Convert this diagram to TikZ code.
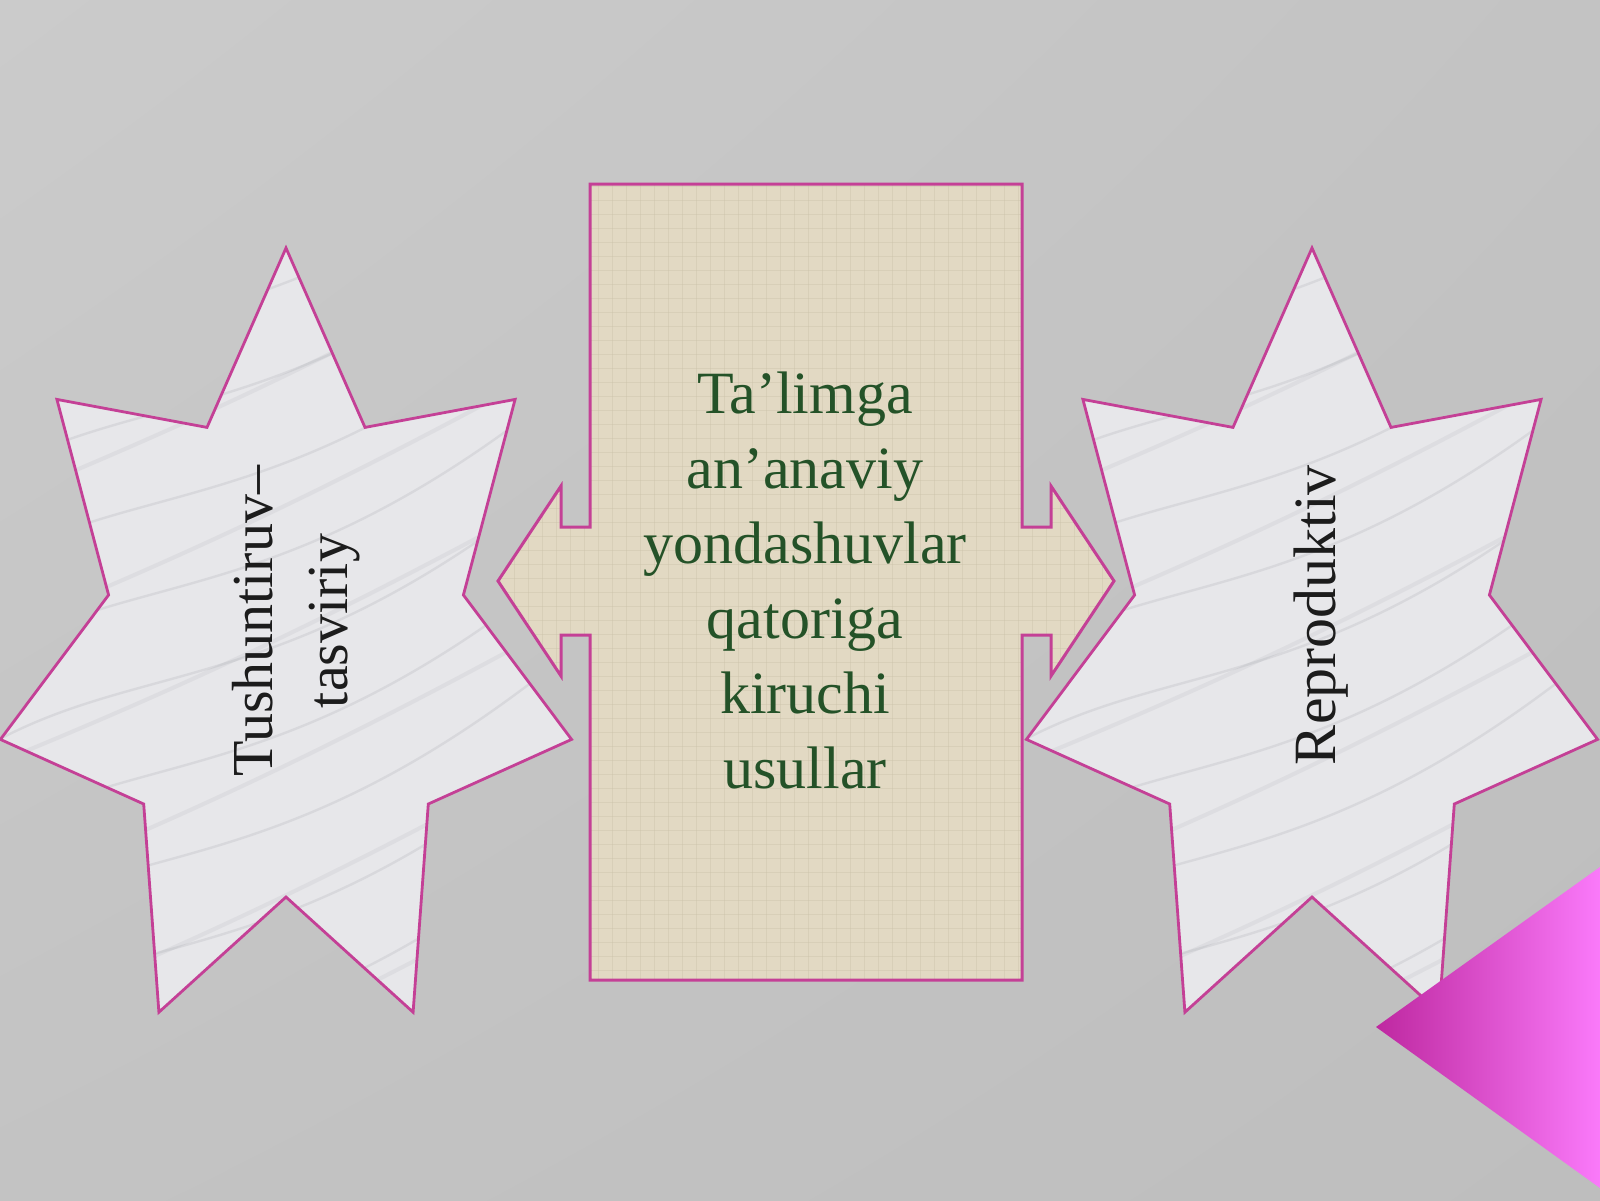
\documentclass[tikz,border=0pt]{standalone}
\usepackage{fontspec}
\setmainfont{Liberation Serif}
\usetikzlibrary{shadings}
\definecolor{bgc}{RGB}{195,195,195}
\definecolor{bgul}{RGB}{203,203,203}
\definecolor{bglr}{RGB}{190,190,190}
\definecolor{edgec}{RGB}{196,64,150}
\definecolor{burlap}{RGB}{226,217,195}
\definecolor{burlapline}{RGB}{200,190,165}
\definecolor{marble}{RGB}{231,231,234}
\definecolor{vein}{RGB}{150,152,160}
\definecolor{txtgreen}{RGB}{36,82,40}
\definecolor{txtdark}{RGB}{28,28,28}
\definecolor{magdark}{RGB}{190,40,160}
\definecolor{maglight}{RGB}{250,122,250}
\newcommand\mystarpath{(286,248) -- (207,427.4) -- (56.9,399.4) -- (108.6,595) -- (0.4,739.4)
  -- (143.7,804) -- (158.9,1012.2) -- (286,897) -- (413.1,1012.2) -- (428.3,804)
  -- (571.6,739.4) -- (463.4,595) -- (515.1,399.4) -- (365,427.4) -- cycle}
\newcommand\mycalloutpath{(590,184) -- (1022,184) -- (1022,527) -- (1051,527) -- (1051,486)
  -- (1114,581) -- (1051,676) -- (1051,635) -- (1022,635) -- (1022,980) -- (590,980)
  -- (590,635) -- (561,635) -- (561,676) -- (498,581) -- (561,486) -- (561,527)
  -- (590,527) -- cycle}
\newcommand\myveins{%
  \foreach \s in {0,90,...,900} {
    \draw[veinline] (-20,\s+300) .. controls (150,\s+200) and (300,\s+260) .. (620,\s-20);
  }
  \foreach \s in {40,170,...,900} {
    \draw[veinline,opacity=0.12,line width=2pt] (-20,\s+340) .. controls (200,\s+250) and (350,\s+180) .. (620,\s+30);
  }}
\begin{document}
\begin{tikzpicture}[x=0.5pt,y=-0.5pt,
  starshape/.style={draw=edgec,line width=1.4pt,line join=miter},
  calloutshape/.style={draw=edgec,line width=1.5pt,line join=miter},
  veinline/.style={draw=vein,opacity=0.18,line width=1.2pt},
  burlapgrid/.style={draw=burlapline,opacity=0.35,line width=0.35pt},
  centertext/.style={text=txtgreen,align=center,inner sep=0pt,
    font=\fontsize{30pt}{37.5pt}\selectfont},
  startext/.style={text=txtdark,align=center,inner sep=0pt,rotate=90}]
\useasboundingbox (0,0) rectangle (1600,1200);
% background
\shade[upper left=bgul,upper right=bgc,lower left=bgc,lower right=bglr]
  (-5,-5) rectangle (1605,1205);
% left star
\fill[marble] \mystarpath;
\begin{scope}
  \clip \mystarpath;
  \myveins
\end{scope}
\draw[starshape] \mystarpath;
% right star
\begin{scope}[shift={(1026,0)}]
  \fill[marble] \mystarpath;
  \begin{scope}
    \clip \mystarpath;
    \myveins
  \end{scope}
  \draw[starshape] \mystarpath;
\end{scope}
% central left-right arrow callout
\fill[burlap] \mycalloutpath;
\begin{scope}
  \clip \mycalloutpath;
  \foreach \gx in {500,514,...,1120} { \draw[burlapgrid] (\gx,180) -- (\gx,985); }
  \foreach \gy in {186,200,...,980} { \draw[burlapgrid] (495,\gy) -- (1120,\gy); }
\end{scope}
\draw[calloutshape] \mycalloutpath;
% corner triangle
\shade[left color=magdark,right color=maglight] (1376,1027) -- (1600,867) -- (1600,1188) -- cycle;
% texts
\node[centertext] (center) at (805,580.5)
  {Ta’limga\\an’anaviy\\yondashuvlar\\qatoriga\\kiruchi\\usullar};
\node[startext,font=\fontsize{29pt}{37.5pt}\selectfont] (lefttext) at (296,621)
  {Tushuntiruv–\\tasviriy};
\node[startext,font=\fontsize{30pt}{36pt}\selectfont] (righttext) at (1321,615)
  {Reproduktiv};
\end{tikzpicture}
\end{document}
